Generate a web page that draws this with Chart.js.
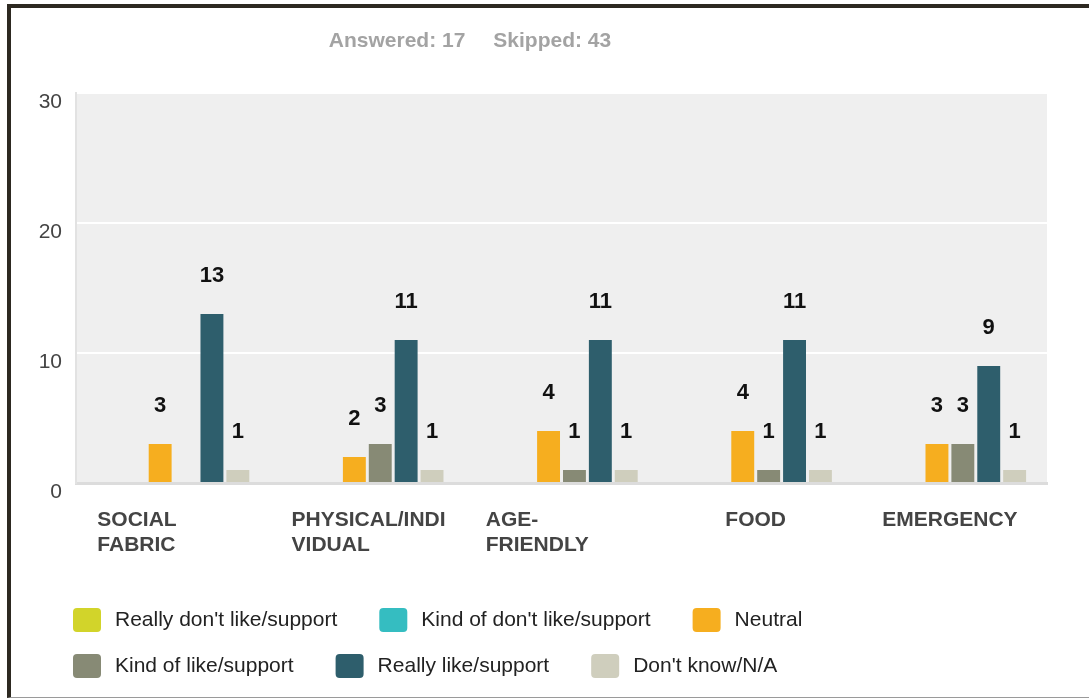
<!DOCTYPE html>
<html>
<head>
<meta charset="utf-8">
<script src="https://cdn.jsdelivr.net/npm/chart.js@4.4.1/dist/chart.umd.min.js"></script>
<style>
    html, body { margin: 0; padding: 0; background: #fff; }
    #frame {
        position: absolute; left: 7px; top: 4px; width: 1100px; height: 689px;
        border-top: 4px solid #2d2921; border-left: 4px solid #2d2921;
        border-bottom: 1px solid #9a9a9a;
    }
    #chart { position: absolute; left: 0; top: 0; }
</style>
</head>
<body>
<div id="frame"></div>
<canvas id="chart" width="1089" height="698"></canvas>
<script>
    // ------------------------------------------------------------------
    // Data
    // ------------------------------------------------------------------
    const categories = [['SOCIAL', 'FABRIC'], ['PHYSICAL/INDI', 'VIDUAL'], ['AGE-', 'FRIENDLY'], 'FOOD', 'EMERGENCY'];
    const yTicks = [0, 10, 20, 30];

    const reallyDislike = [0, 0, 0, 0, 0];
    const kindDislike   = [0, 0, 0, 0, 0];
    const neutral       = [3, 2, 4, 4, 3];
    const kindLike      = [0, 3, 1, 1, 3];
    const reallyLike    = [13, 11, 11, 11, 9];
    const dontKnow      = [1, 1, 1, 1, 1];

    const answered = 17;
    const skipped = 43;

    const FONT = '"Liberation Sans", Arial, sans-serif';

    // ------------------------------------------------------------------
    // Custom drawing: plot background, value labels, x labels, header, legend
    // ------------------------------------------------------------------
    const surveyPlugin = {
        id: 'survey',
        beforeDraw(chart) {
            const {ctx, chartArea: a} = chart;
            ctx.save();
            ctx.fillStyle = '#efefef';
            ctx.fillRect(a.left, a.top, a.right - a.left, a.bottom - a.top);
            ctx.restore();
        },
        afterDatasetsDraw(chart) {
            const ctx = chart.ctx;
            ctx.save();
            ctx.font = 'bold 22px ' + FONT;
            ctx.fillStyle = '#111';
            ctx.textAlign = 'center';
            ctx.textBaseline = 'middle';
            chart.data.datasets.forEach((ds, i) => {
                chart.getDatasetMeta(i).data.forEach((bar, j) => {
                    const v = ds.data[j];
                    if (v > 0) ctx.fillText(String(v), bar.x, bar.y - 38);
                });
            });
            ctx.restore();
        },
        afterDraw(chart) {
            const {ctx, chartArea: a} = chart;
            const x = chart.scales.x;
            ctx.save();

            // header
            ctx.font = 'bold 21px ' + FONT;
            ctx.fillStyle = '#a3a3a3';
            ctx.textBaseline = 'middle';
            const t1 = 'Answered: ' + answered, t2 = 'Skipped: ' + skipped, gap = 28;
            const w1 = ctx.measureText(t1).width, w2 = ctx.measureText(t2).width;
            let hx = 470 - (w1 + gap + w2) / 2;
            ctx.textAlign = 'left';
            ctx.fillText(t1, hx, 41);
            ctx.fillText(t2, hx + w1 + gap, 41);

            // category labels (wrapped ones left aligned in their box)
            ctx.font = 'bold 21px ' + FONT;
            ctx.fillStyle = '#444';
            const box = x.width / categories.length * 0.78;
            categories.forEach((cat, i) => {
                const cx = x.getPixelForValue(i);
                const lines = Array.isArray(cat) ? cat : [cat];
                ctx.textAlign = lines.length > 1 ? 'left' : 'center';
                const lx = lines.length > 1 ? cx - box / 2 : cx;
                lines.forEach((ln, k) => ctx.fillText(ln, lx, a.bottom + 37 + k * 25));
            });

            // legend
            ctx.font = '21px ' + FONT;
            ctx.textAlign = 'left';
            let lx = 73, ly = a.bottom + 137;
            chart.data.datasets.forEach(ds => {
                const tw = ctx.measureText(ds.label).width;
                if (lx + 42 + tw > 1000) { lx = 73; ly += 46; }
                ctx.fillStyle = ds.backgroundColor;
                ctx.beginPath();
                ctx.roundRect(lx, ly - 12, 28, 24, 4);
                ctx.fill();
                ctx.fillStyle = '#222';
                ctx.fillText(ds.label, lx + 42, ly);
                lx += 42 + tw + 42;
            });
            ctx.restore();
        }
    };

    new Chart(document.getElementById('chart'), {
        type: 'bar',
        data: {
            labels: categories,
            datasets: [
                { label: "Really don't like/support", data: reallyDislike, backgroundColor: '#d2d42a' },
                { label: "Kind of don't like/support", data: kindDislike, backgroundColor: '#35bdc1' },
                { label: 'Neutral', data: neutral, backgroundColor: '#f6ae1f' },
                { label: 'Kind of like/support', data: kindLike, backgroundColor: '#878a75' },
                { label: 'Really like/support', data: reallyLike, backgroundColor: '#2e5e6c' },
                { label: "Don't know/N/A", data: dontKnow, backgroundColor: '#cfcebd' }
            ]
        },
        options: {
            responsive: false,
            animation: false,
            devicePixelRatio: 1,
            categoryPercentage: 0.8,
            barPercentage: 0.885,
            layout: { padding: { top: 93, bottom: 215, left: 0, right: 42 } },
            plugins: {
                legend: { display: false },
                title: { display: false },
                tooltip: { enabled: false }
            },
            scales: {
                x: {
                    ticks: { display: false },
                    grid: { display: false, drawTicks: false },
                    border: { color: '#dcdcdc', width: 3 },
                    afterFit: s => { s.height = 0; }
                },
                y: {
                    min: yTicks[0],
                    max: yTicks[yTicks.length - 1],
                    afterBuildTicks: s => { s.ticks = yTicks.map(v => ({value: v})); },
                    ticks: {
                        padding: 14,
                        labelOffset: 9,
                        color: '#444',
                        font: { family: FONT, size: 21 }
                    },
                    grid: {
                        drawTicks: false,
                        lineWidth: 2,
                        color: c => c.tick && c.tick.value === 0 ? 'rgba(0,0,0,0)' : '#ffffff'
                    },
                    border: { color: '#e2e2e2', width: 2 },
                    afterFit: s => { s.width = 76; }
                }
            }
        },
        plugins: [surveyPlugin]
    });
</script>
</body>
</html>
